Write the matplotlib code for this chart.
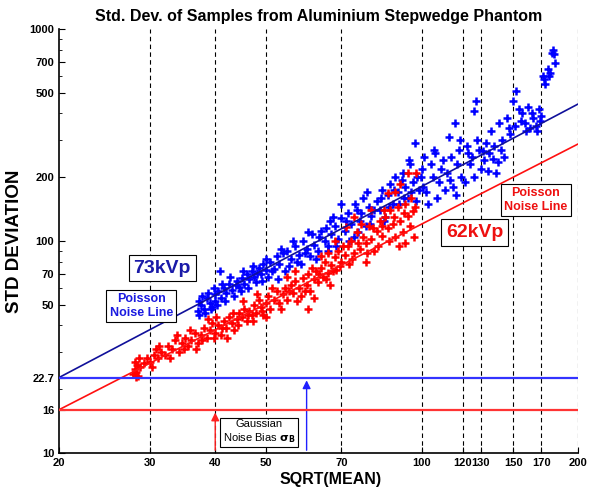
import numpy as np
import matplotlib
matplotlib.use("Agg")
import matplotlib.pyplot as plt
from matplotlib.ticker import FixedLocator, FixedFormatter, LogLocator, NullFormatter

plt.rcParams['font.family'] = ['Liberation Sans', 'DejaVu Sans']

# tick values
xticks = [20, 30, 40, 50, 70, 100, 120, 130, 150, 170, 200]
yticks = [10, 16, 22.7, 50, 70, 100, 200, 500, 700, 1000]

# 62kVp samples (sqrt(mean), std)
red_x = [27.8, 28.0, 28.0, 28.2, 28.3, 28.5, 28.4,
         29.2, 30, 30.5, 31, 30.8, 31.5,
         32, 32.5, 33, 33.5, 34, 34.5, 35, 35.5,
         36, 36.5, 37, 37.5, 38, 38.5, 39, 39.5,
         40, 40.5, 41, 41.5, 42, 42.5, 43, 43.5, 44, 44.5,
         45, 45.5, 46, 46.5, 47, 47.5, 48, 48.5, 49, 49.5, 50,
         50.5, 51, 52, 52.5, 53, 54, 54.5, 55, 56,
         56.5, 57, 58, 58.5, 59, 60, 60.5, 61, 62,
         62.5, 63, 64, 64.5, 65, 66, 66.5, 67, 68,
         68.5, 69, 70, 71, 72, 72.5, 73, 74, 75,
         76, 77, 78, 79, 80, 81, 82, 83, 84, 85,
         86, 87, 88, 89, 90, 91, 92, 93, 94, 95, 96, 97,
         71.5, 86, 97.5, 94,
         28.1, 28.6, 29.5, 30.2, 31.2, 32.8, 33.8, 34.8, 35.8, 36.8,
         37.8, 38.8, 39.8, 40.2, 41.2, 42.2, 43.2, 44.2, 45.2, 46.2,
         47.2, 48.2, 49.2, 50.2, 51.5, 53.5, 55.5, 57.5, 59.5, 61.5,
         63.5, 65.5, 67.5, 69.5, 70.5, 73.5, 75.5, 76.5, 78.5, 80.5,
         82.5, 84.5, 86.5, 88.5, 90.5, 92.5, 95.5, 96.5, 60.5, 55,
         64, 68, 74, 80, 89, 91, 57, 62, 66, 78, 84, 93]
red_y = [23.5, 25, 27, 24, 26, 28, 23,
         26.5, 27, 29, 28, 31, 30,
         29, 32, 31, 34, 30, 33, 35, 32,
         34, 37, 33, 36, 39, 35, 38, 41,
         37, 40, 36, 42, 39, 44, 41, 38, 43, 46,
         44, 48, 42, 47, 45, 50, 46, 53, 49, 45, 51,
         55, 48, 53, 58, 51, 56, 60, 53, 62,
         57, 65, 60, 55, 67, 62, 70, 58, 66,
         72, 64, 75, 68, 80, 71, 62, 77, 84,
         73, 90, 80, 86, 95, 78, 100, 88, 110,
         92, 105, 98, 118, 102, 90, 112, 125, 106, 130,
         115, 140, 120, 105, 145, 125, 110, 150, 132, 118, 138, 145,
         117, 168, 209, 210,
         22.8, 25.5, 28, 25.5, 32, 28, 36, 31, 38, 31,
         34, 43, 35, 44, 39, 35, 46, 40, 52, 45,
         42, 56, 47, 44, 60, 48, 58, 52, 58, 75,
         70, 66, 72, 76, 95, 82, 98, 120, 88, 115,
         95, 140, 100, 130, 95, 135, 160, 105, 48, 68,
         85, 100, 130, 140, 170, 185, 72, 54, 88, 80, 118, 98]

# 73kVp samples
blue_x = [37, 37.2, 37.5, 38, 38.5, 39, 39.5, 40, 40,
          40.5, 40.8, 41, 41.5, 42, 42.5, 43, 43.5, 44, 44.5, 45,
          45.5, 46, 46.5, 47, 47.5, 48, 48.5, 49, 49.5, 50,
          50.5, 51, 52, 52.5, 53, 54, 54.5, 55, 56,
          57, 58, 58.5, 59, 60, 61, 61.5, 62, 63,
          64, 65, 66, 66.5, 67, 68, 69, 70, 70,
          71, 72, 73, 74, 75, 76, 77, 78, 79, 80,
          82, 83, 84, 85, 86, 87, 88, 89, 90,
          92, 93, 94, 95, 96, 97, 98, 99, 100,
          101, 102, 104, 105, 106, 108, 110, 112, 113, 114, 115, 116, 117, 118, 119,
          122, 124, 125, 126, 127, 128, 129, 130, 132, 133, 135, 136, 138, 140, 141, 143, 144,
          146, 147, 150, 152, 154, 156, 158, 160, 162, 164, 166, 168, 170,
          171, 173, 175, 177, 179, 180, 181,
          37.3, 37.8, 38.2, 38.8, 39.2, 39.8, 40.3, 41.2, 41.8, 42.8,
          43.8, 44.8, 45.2, 46.2, 47.2, 48.2, 49.2, 50.2, 51.5, 52.8,
          53.5, 55.5, 56.5, 57.5, 59.5, 60.5, 62.5, 63.5, 65.5, 66,
          67.5, 68.5, 71.5, 72.5, 74.5, 75.5, 76.5, 78.5, 79.5, 81,
          83.5, 84.5, 86.5, 88.5, 90.5, 91.5, 92.5, 94.5, 95.5, 97.5,
          99.5, 100.5, 103, 105.5, 107, 109, 111, 113.5, 116.5, 118.5,
          121, 123, 126, 131, 134, 137, 139, 142, 148, 151,
          155, 159, 163, 167, 169, 172, 176, 178]
blue_y = [47, 52, 50, 48, 54, 51, 49, 56, 52,
          58, 72, 54, 60, 57, 63, 59, 55, 65, 61, 67,
          63, 70, 66, 72, 68, 64, 75, 70, 78, 73,
          68, 80, 74, 85, 78, 88, 72, 90, 82,
          95, 86, 78, 100, 92, 85, 108, 96, 90,
          112, 100, 95, 125, 108, 118, 102, 128, 150,
          112, 135, 120, 105, 140, 125, 160, 118, 145, 132,
          155, 140, 175, 130, 165, 185, 150, 200, 170,
          210, 180, 160, 230, 190, 290, 200, 175, 220,
          250, 170, 230, 200, 260, 190, 240, 210, 310, 250, 180, 360, 230, 270, 200,
          280, 230, 250, 410, 460, 300, 270, 220, 240, 290, 260, 330, 280, 235, 360, 300, 250,
          380, 340, 460, 510, 420, 400, 360, 430, 340, 380, 350, 420, 390,
          600, 550, 650, 620, 800, 760, 690,
          45, 55, 46, 57, 48, 60, 50, 63, 52, 68,
          62, 58, 72, 60, 76, 71, 65, 82, 72, 66,
          92, 76, 100, 80, 88, 110, 82, 105, 115, 90,
          130, 95, 125, 100, 150, 110, 135, 170, 120, 140,
          160, 125, 145, 175, 150, 195, 160, 240, 170, 155,
          200, 180, 150, 270, 160, 220, 175, 195, 165, 300,
          190, 260, 200, 265, 215, 245, 210, 270, 320, 350,
          370, 330, 400, 330, 370, 580, 600, 770]

# Poisson noise lines (end points) and gaussian bias levels
blue_line_x = [20, 200]
blue_line_y = [22.7, 443]
red_line_x = [20, 200]
red_line_y = [16, 287]
bias_blue = 22.7
bias_red = 16

fig = plt.figure(figsize=(6.12, 4.94), dpi=100)
ax = fig.add_axes([0.0964, 0.083, 0.848, 0.858])
ax.set_xscale('log')
ax.set_yscale('log')
ax.set_xlim(20, 200)
ax.set_ylim(10, 1000)

for xv in xticks[1:]:
    ax.axvline(xv, color='black', ls=(0, (4, 3)), lw=0.8, zorder=1)

ax.plot(blue_x, blue_y, '+', color='#0000ff', ms=6, mew=1.8, zorder=3)
ax.plot(red_x, red_y, '+', color='#ff0000', ms=6, mew=1.8, zorder=3)

ax.plot(blue_line_x, blue_line_y, color='#10109a', lw=1.2, zorder=4)
ax.plot(red_line_x, red_line_y, color='#ff1010', lw=1.2, zorder=4)
ax.axhline(bias_blue, color='#3333ff', lw=1.6, zorder=4)
ax.axhline(bias_red, color='#ff3333', lw=1.6, zorder=4)

ax.annotate('', xy=(40, bias_red), xytext=(40, 10),
            arrowprops=dict(arrowstyle='-|>', color='#ff2020', lw=1.0, mutation_scale=12))
ax.annotate('', xy=(60, bias_blue), xytext=(60, 10),
            arrowprops=dict(arrowstyle='-|>', color='#2020ff', lw=1.0, mutation_scale=12))

box = dict(boxstyle='square,pad=0.25', fc='white', ec='black', lw=0.8)
ax.text(31.6, 74.6, '73kVp', color='#1a1aa8', fontsize=14, fontweight='bold',
        ha='center', va='center', bbox=box, zorder=6)
ax.text(28.8, 49.3, 'Poisson\nNoise Line', color='#1a1ae0', fontsize=9, fontweight='bold',
        ha='center', va='center', linespacing=1.2, bbox=box, zorder=6)
ax.text(126.6, 110, '62kVp', color='#ee1010', fontsize=14, fontweight='bold',
        ha='center', va='center', bbox=box, zorder=6)
ax.text(166, 156, 'Poisson\nNoise Line', color='#ee1010', fontsize=9, fontweight='bold',
        ha='center', va='center', linespacing=1.2, bbox=box, zorder=6)
ax.text(48.6, 12.6, 'Gaussian\nNoise Bias $\\mathbf{\\sigma_B}$', color='black', fontsize=8,
        ha='center', va='center', linespacing=1.2, bbox=box, zorder=6)

ax.xaxis.set_major_locator(FixedLocator(xticks))
ax.xaxis.set_major_formatter(FixedFormatter([str(v) for v in xticks]))
ax.xaxis.set_minor_locator(FixedLocator([]))
ax.xaxis.set_minor_formatter(NullFormatter())
ax.yaxis.set_major_locator(FixedLocator(yticks))
ax.yaxis.set_major_formatter(FixedFormatter([str(v) for v in yticks]))
ax.yaxis.set_minor_locator(LogLocator(base=10, subs=np.arange(2, 10)))
ax.yaxis.set_minor_formatter(NullFormatter())

ax.tick_params(axis='both', which='major', direction='in', length=4, labelsize=8)
ax.tick_params(axis='y', which='minor', direction='in', length=2)
for lab in ax.get_xticklabels() + ax.get_yticklabels():
    lab.set_fontweight('bold')

ax.spines['top'].set_visible(False)
ax.spines['right'].set_visible(False)
ax.spines['left'].set_linewidth(1.2)
ax.spines['bottom'].set_linewidth(1.2)

ax.set_title('Std. Dev. of Samples from Aluminium Stepwedge Phantom',
             fontsize=11.5, fontweight='bold', pad=6)
ax.set_xlabel('SQRT(MEAN)', fontsize=11.5, fontweight='bold', labelpad=2)
ax.xaxis.set_label_coords(0.524, -0.045)
ax.set_ylabel('STD DEVIATION', fontsize=13.5, fontweight='bold')
ax.yaxis.set_label_coords(-0.069, 0.50)

fig.savefig('out.png', dpi=100)
